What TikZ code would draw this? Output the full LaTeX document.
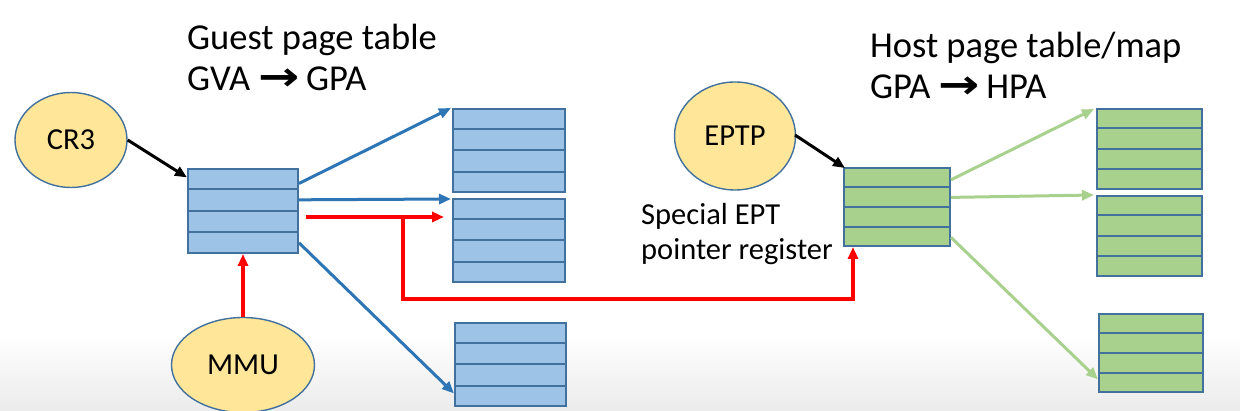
\documentclass[tikz,border=0pt]{standalone}
\usepackage{fontspec}
\setmainfont{Carlito}
\newfontfamily\arrowfont{DejaVu Sans}
\usetikzlibrary{calc,arrows.meta,shapes.geometric}
\definecolor{tblue}{HTML}{9DC3E6}
\definecolor{tgreen}{HTML}{A9D18E}
\definecolor{tedge}{HTML}{41719C}
\definecolor{ablue}{HTML}{2E75B6}
\definecolor{agreen}{HTML}{A9D18E}
\definecolor{yell}{HTML}{FFE699}
\definecolor{bggray}{HTML}{EBEBEB}
\newcommand{\ptab}[5]{%
  \node[tab, fill=#5, minimum width=#3, minimum height=#4] (#1) at #2 {};
  \foreach \k in {1,2,3}
    \draw[tabline] ($(#1.north west)!\k/4!(#1.south west)$) -- ($(#1.north east)!\k/4!(#1.south east)$);
}
\newcommand{\rarr}{\hspace*{0.22em}\scalebox{1.35}[1.1]{\arrowfont\bfseries →}\hspace*{0.18em}}
\begin{document}
\begin{tikzpicture}[x=1pt,y=-1pt,
  tab/.style={draw=tedge, line width=2pt, rectangle, inner sep=0pt},
  tabline/.style={draw=tedge, line width=2pt},
  oval/.style={ellipse, draw=tedge, line width=1.4pt, fill=yell, inner sep=0pt, font=\fontsize{30.5}{36}\selectfont},
  title/.style={anchor=base west, inner sep=0pt, font=\fontsize{36.5}{44}\selectfont},
  note/.style={anchor=base west, inner sep=0pt, font=\fontsize{30.5}{36}\selectfont},
  tip/.style={-{Triangle[length=12pt,width=10pt]}},
  bluearr/.style={tip, draw=ablue, line width=3pt},
  greenarr/.style={tip, draw=agreen, line width=3pt},
  redarr/.style={tip, draw=red, line width=3.5pt},
  blackarr/.style={tip, draw=black, line width=3pt},
]
\useasboundingbox (0,0) rectangle (1240,411);
\fill[white] (0,0) rectangle (1240,411);
\shade[top color=white, bottom color=bggray] (0,335) rectangle (1240,411);

% titles
\node[title] (t1) at (187,50) {Guest page table};
\node[title] (t2) at (187,91) {GVA\rarr GPA};
\node[title] (t3) at (870,58) {Host page table/map};
\node[title] (t4) at (870,99) {GPA\rarr HPA};
\node[note] (n1) at (641,225) {Special EPT};
\node[note] (n2) at (641,260) {pointer register};

% ovals
\node[oval, minimum width=112pt, minimum height=95pt] (cr3) at (71,140) {CR3};
\node[oval, minimum width=121pt, minimum height=108pt] (eptp) at (735,136) {EPTP};
\node[oval, minimum width=143pt, minimum height=95pt] (mmu) at (243,365) {MMU};

% tables
\ptab{g}{(243,211)}{110pt}{84pt}{tblue}
\ptab{b1}{(509,150.5)}{112pt}{83pt}{tblue}
\ptab{b2}{(509,240.5)}{112pt}{83pt}{tblue}
\ptab{b3}{(510.5,364.5)}{111pt}{83pt}{tblue}
\ptab{h}{(897,207)}{106pt}{78pt}{tgreen}
\ptab{e1}{(1149.5,149)}{105pt}{80pt}{tgreen}
\ptab{e2}{(1149.5,236)}{105pt}{80pt}{tgreen}
\ptab{e3}{(1151,353)}{104pt}{78pt}{tgreen}

% black arrows
\draw[blackarr] (cr3.east) -- ($(g.north west)!0.11!(g.south west)$);
\draw[blackarr] ($(eptp.center)+(60,-1)$) -- ($(h.north west)+(2,1)$);

% blue arrows
\draw[bluearr] ($(g.north east)!0.18!(g.south east)$) -- ($(b1.north west)+(-1,0)$);
\draw[bluearr] ($(g.north east)!0.37!(g.south east)$) -- ($(b2.north west)+(-1,1)$);
\draw[bluearr] ($(g.north east)!0.87!(g.south east)$) -- ($(b3.north west)!0.84!(b3.south west)$);

% green arrows
\draw[greenarr] ($(h.north east)!0.16!(h.south east)$) -- ($(e1.north west)+(-2,1)$);
\draw[greenarr] ($(h.north east)!0.38!(h.south east)$) -- ($(e2.north west)+(-2,0)$);
\draw[greenarr] ($(h.north east)!0.88!(h.south east)$) -- ($(e3.north west)!0.83!(e3.south west)$);

% red arrows
\coordinate (rs) at ($(g.east)+(7,6)$);
\coordinate (rj) at (403,217);
\coordinate (rb) at (853,299);
\draw[redarr] (rs) -- ($(b2.west)+(-8,-23.5)$);
\draw[redarr] (rj) -- (rj |- rb) -- (rb) -- (rb |- h.south);
\draw[redarr] (mmu.north) -- (g.south);
\end{tikzpicture}
\end{document}
